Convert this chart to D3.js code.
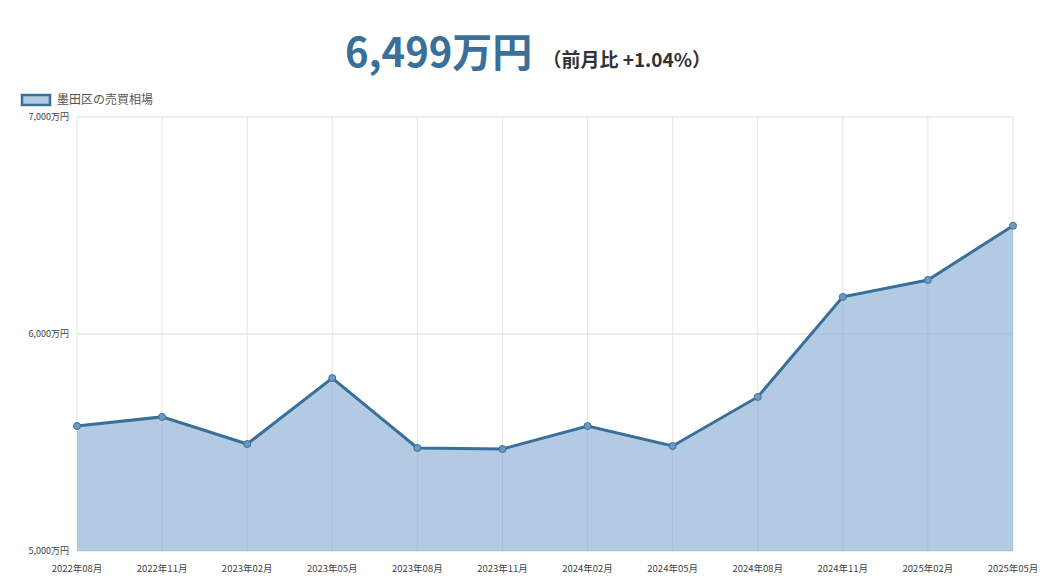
<!DOCTYPE html>
<html><head><meta charset="utf-8">
<script src="https://cdn.jsdelivr.net/npm/d3@7"></script>
<style>body{margin:0;background:#fff;font-family:"Noto Sans CJK JP","Noto Sans",sans-serif;}</style>
</head><body>
<svg id="c" width="1056" height="588"></svg>
<script>
var months = ["2022年08月","2022年11月","2023年02月","2023年05月","2023年08月","2023年11月","2024年02月","2024年05月","2024年08月","2024年11月","2025年02月","2025年05月"];
var prices = [5576, 5618, 5493, 5797, 5475, 5470, 5576, 5484, 5710, 6171, 6249, 6499];
var yTicks = [5000, 6000, 7000];

var svg = d3.select("#c");
var plotL = 77, plotR = 1013, plotT = 117, plotB = 551;

var x = d3.scalePoint().domain(months).range([plotL, plotR]);
var y = d3.scaleLinear().domain([5000, 7000]).range([plotB, plotT]);

// title
var t = svg.append("text").attr("x", 528).attr("y", 67).attr("text-anchor", "middle")
  .attr("font-weight", "bold");
t.append("tspan").attr("font-size", 40).attr("fill", "#3a6f9c").text("6,499万円");
t.append("tspan").attr("font-size", 19).attr("fill", "#333").attr("dx", 10).text("（前月比 +1.04%）");

// legend
svg.append("rect").attr("x", 22).attr("y", 95).attr("width", 28).attr("height", 10)
  .attr("fill", "#b1cce1").attr("stroke", "#3a6f9c").attr("stroke-width", 2.5);
svg.append("text").attr("x", 57).attr("y", 104).attr("font-size", 12).attr("fill", "#555").text("墨田区の売買相場");

// grid
svg.append("g").selectAll("line").data(months).enter().append("line")
  .attr("x1", d => x(d)).attr("x2", d => x(d)).attr("y1", plotT).attr("y2", plotB)
  .attr("stroke", "#e6e6e6");
svg.append("g").selectAll("line").data(yTicks).enter().append("line")
  .attr("x1", plotL).attr("x2", plotR).attr("y1", d => y(d)).attr("y2", d => y(d))
  .attr("stroke", "#ddd");

// area + line
var area = d3.area().x((d, i) => x(months[i])).y0(plotB).y1(d => y(d));
var line = d3.line().x((d, i) => x(months[i])).y(d => y(d));
svg.append("path").datum(prices).attr("d", area).attr("fill", "#7ea9ce").attr("fill-opacity", 0.6);
svg.append("path").datum(prices).attr("d", line).attr("fill", "none").attr("stroke", "#3a6f9c").attr("stroke-width", 3);
svg.append("g").selectAll("circle").data(prices).enter().append("circle")
  .attr("cx", (d, i) => x(months[i])).attr("cy", d => y(d)).attr("r", 3.5)
  .attr("fill", "#6d98c0").attr("stroke", "#3a6f9c").attr("stroke-width", 1);

// axes labels
svg.append("g").selectAll("text").data(yTicks).enter().append("text")
  .attr("x", plotL - 8).attr("y", d => y(d) + 3).attr("text-anchor", "end")
  .attr("font-size", 9).attr("fill", "#444").text(d => d3.format(",")(d) + "万円");
svg.append("g").selectAll("text").data(months).enter().append("text")
  .attr("x", d => x(d)).attr("y", 572).attr("text-anchor", "middle")
  .attr("font-size", 9.5).attr("fill", "#444").text(d => d);
</script>
</body></html>
